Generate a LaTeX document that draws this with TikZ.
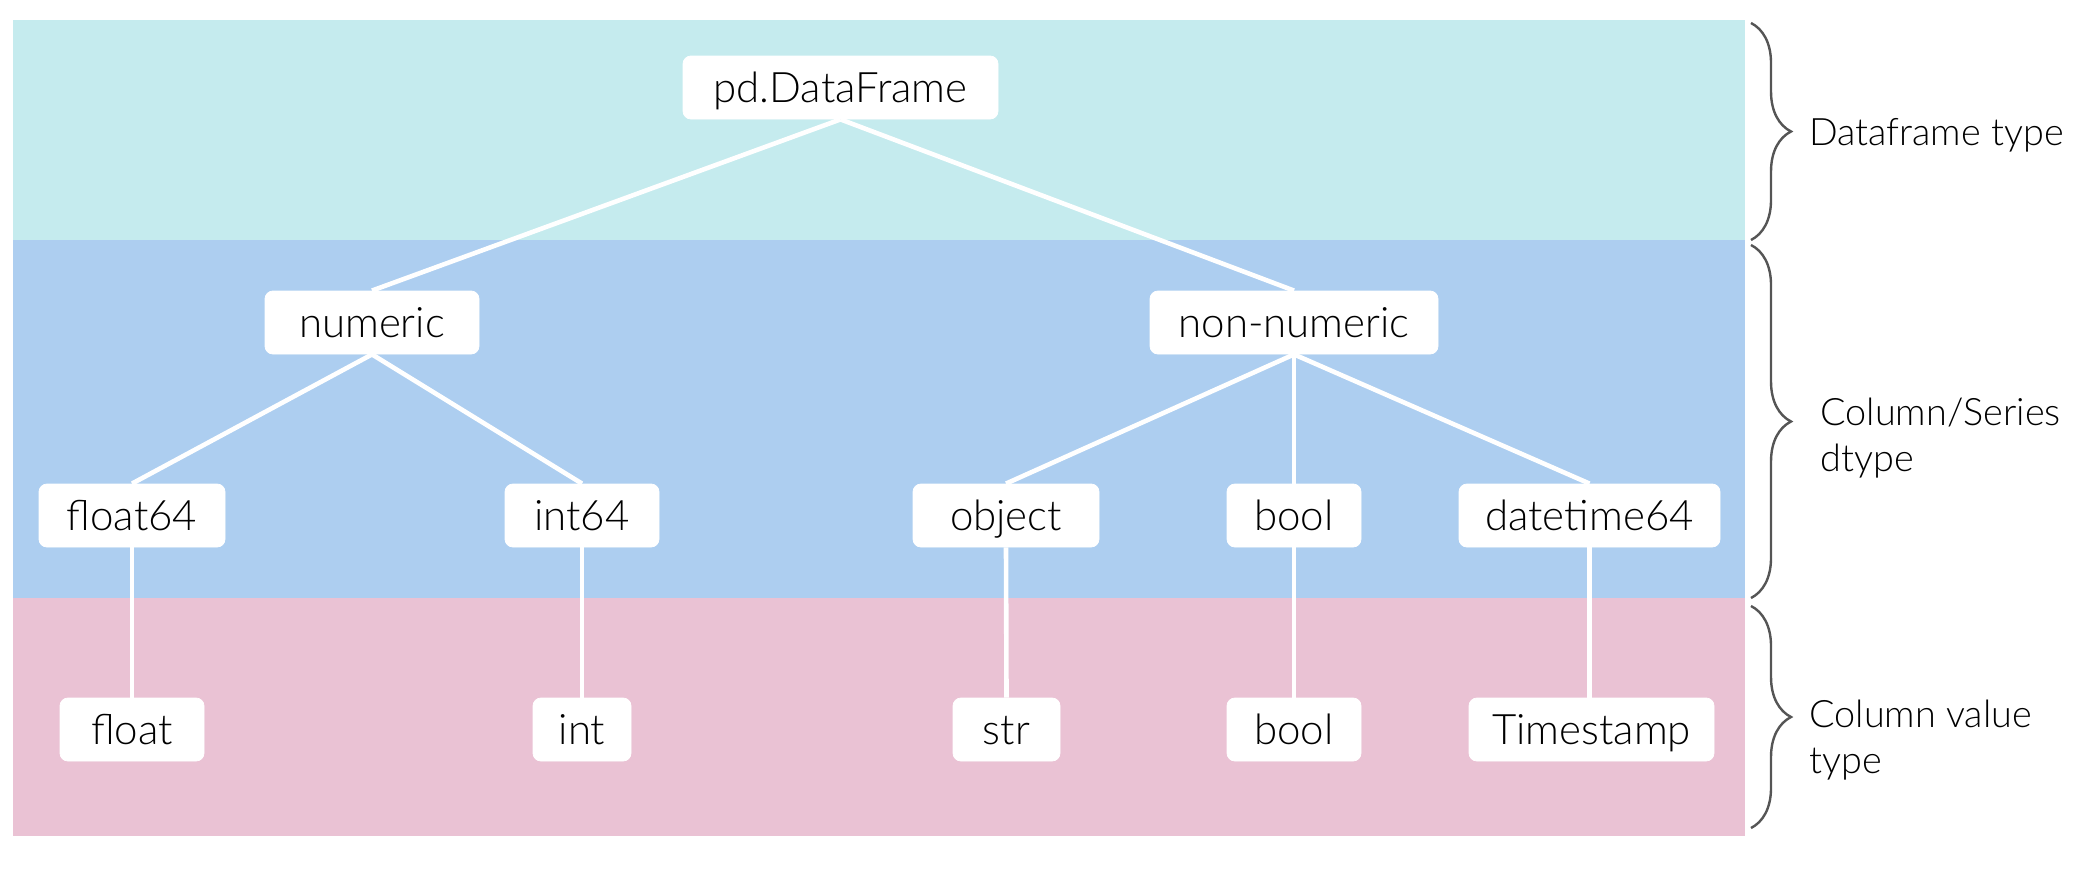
\documentclass[tikz,border=0pt]{standalone}
\usepackage{fontspec}
\IfFontExistsTF{Lato Light}{\setmainfont{Lato Light}}{\setmainfont{Lato}}
\usetikzlibrary{decorations.pathreplacing}
\definecolor{bandcyan}{RGB}{197,235,238}
\definecolor{bandblue}{RGB}{173,206,240}
\definecolor{bandpink}{RGB}{234,194,212}
\definecolor{bracegray}{RGB}{85,85,85}
\tikzset{
  box/.style={fill=white, draw=white, rounded corners=4pt, inner sep=0pt,
    minimum height=31.5pt, text height=15pt, text depth=0pt,
    font=\fontsize{21}{25}\selectfont},
  link/.style={white, line width=2.3pt},
  sidebrace/.style={bracegray, line width=1.2pt, decorate,
    decoration={brace, amplitude=20pt}},
  sidelabel/.style={align=left, anchor=base west, inner sep=0pt,
    font=\fontsize{18.9}{23}\selectfont}
}
\begin{document}
\begin{tikzpicture}[x=0.5pt,y=-0.5pt]
\useasboundingbox (0,0) rectangle (2088,884);
% bands
\fill[bandcyan] (13,19.5) rectangle (1745,240);
\fill[bandblue] (13,240) rectangle (1745,598);
\fill[bandpink] (13,598) rectangle (1745,836);
% nodes
\node[box, minimum width=157.5pt] (pd) at (840.5,87.5) {pd.DataFrame};
\node[box, minimum width=107pt] (num) at (372,322.5) {numeric};
\node[box, minimum width=144pt] (non) at (1294,322.5) {non-numeric};
\node[box, minimum width=93pt] (f64) at (132,515.5) {float64};
\node[box, minimum width=77pt] (i64) at (582,515.5) {int64};
\node[box, minimum width=93pt] (obj) at (1006,515.5) {object};
\node[box, minimum width=67pt] (bl) at (1294,515.5) {bool};
\node[box, minimum width=130.5pt] (dt) at (1589.5,515.5) {datetime64};
\node[box, minimum width=72pt] (fl) at (132,729.5) {float};
\node[box, minimum width=49pt] (in) at (582,729.5) {int};
\node[box, minimum width=53.5pt] (st) at (1006.5,729.5) {str};
\node[box, minimum width=67pt] (bl2) at (1294,729.5) {bool};
\node[box, minimum width=122.5pt] (ts) at (1591.5,729.5) {Timestamp};
% links
\draw[link] (pd.south) -- (num.north);
\draw[link] (pd.south) -- (non.north);
\draw[link] (num.south) -- (f64.north);
\draw[link] (num.south) -- (i64.north);
\draw[link] (non.south) -- (obj.north);
\draw[link] (non.south) -- (bl.north);
\draw[link] (non.south) -- (dt.north);
\draw[link] (f64.south) -- (fl.north);
\draw[link] (i64.south) -- (in.north);
\draw[link] (obj.south) -- (st.north);
\draw[link] (bl.south) -- (bl2.north);
\draw[link] (dt.south) -- (dt.south |- ts.north);
% braces
\coordinate (b1s) at (1751,23);
\coordinate (b1e) at (1751,240);
\coordinate (b2s) at (1751,245);
\coordinate (b2e) at (1751,598);
\coordinate (b3s) at (1751,606);
\coordinate (b3e) at (1751,828);
\draw[sidebrace] (b1s) -- (b1e);
\draw[sidebrace] (b2s) -- (b2e);
\draw[sidebrace] (b3s) -- (b3e);
% labels (base anchor = last line's baseline)
\node[sidelabel] (l1) at (1809,145) {Dataframe type};
\node[sidelabel] (l2) at (1820,471) {Column/Series\\dtype};
\node[sidelabel] (l3) at (1809,773) {Column value\\type};
\end{tikzpicture}
\end{document}
